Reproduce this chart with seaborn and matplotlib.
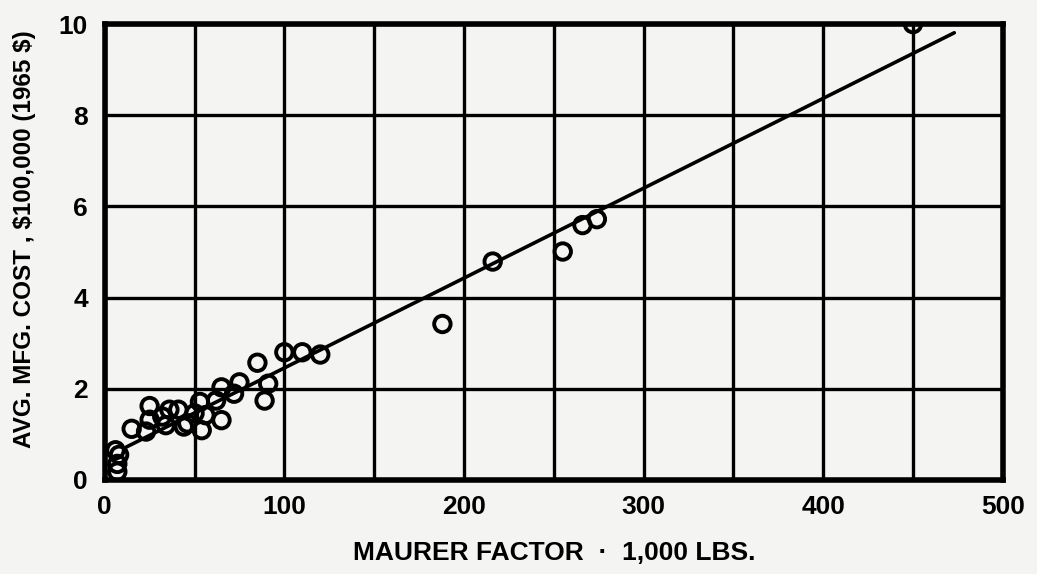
import numpy as np
import pandas as pd
from matplotlib import pyplot as plt
from matplotlib.ticker import MultipleLocator
import seaborn as sns

# data
maurer = [6, 8, 7, 7, 15, 23, 25, 25, 32, 34, 36, 41, 44, 46, 50, 54, 53, 56,
          62, 65, 65, 72, 75, 85, 89, 91, 100, 110, 120, 188, 216, 255, 266, 274, 450]
cost = [0.65, 0.55, 0.35, 0.18, 1.12, 1.06, 1.62, 1.32, 1.39, 1.20, 1.54, 1.54,
        1.17, 1.24, 1.46, 1.09, 1.71, 1.42, 1.74, 1.31, 2.03, 1.89, 2.14, 2.57,
        1.74, 2.11, 2.80, 2.80, 2.75, 3.42, 4.79, 5.01, 5.59, 5.72, 10.0]
fit_x = [12, 473]
fit_y = [0.72, 9.81]

x_ticks = [0, 100, 200, 300, 400, 500]
y_ticks = [0, 2, 4, 6, 8, 10]

df = pd.DataFrame({"x": maurer, "y": cost})
fit = pd.DataFrame({"x": fit_x, "y": fit_y})

sns.set_style("white")
plt.rcParams['font.family'] = ['Liberation Sans Narrow', 'Liberation Sans', 'DejaVu Sans']
plt.rcParams['text.color'] = 'black'
plt.rcParams['axes.labelcolor'] = 'black'
plt.rcParams['xtick.color'] = 'black'
plt.rcParams['ytick.color'] = 'black'
bg = "#f4f4f2"

fig = plt.figure(figsize=(10.37, 5.74), dpi=100, facecolor=bg)
ax = fig.add_axes([0.101, 0.164, 0.866, 0.794])
ax.set_facecolor(bg)

sns.lineplot(data=fit, x="x", y="y", ax=ax, color="black", linewidth=2.6, zorder=3)
sns.scatterplot(data=df, x="x", y="y", ax=ax, marker="o", s=140,
                facecolor="none", edgecolor="black", linewidth=2.8, zorder=4)

ax.set_xlim(0, 500)
ax.set_ylim(0, 10)
ax.set_xticks(x_ticks)
ax.set_yticks(y_ticks)
ax.xaxis.set_minor_locator(MultipleLocator(50))
ax.grid(which="both", color="black", linewidth=2.4)
ax.set_axisbelow(True)
ax.tick_params(which="both", length=0)
ax.tick_params(axis="x", pad=11)
ax.tick_params(axis="y", pad=12)
for lab in ax.get_xticklabels() + ax.get_yticklabels():
    lab.set_fontsize(19)
    lab.set_fontweight("bold")
for s in ax.spines.values():
    s.set_linewidth(4)
    s.set_color("black")

ax.set_xlabel("MAURER FACTOR  ·  1,000 LBS.", fontsize=19, fontweight="bold", labelpad=16)
ax.set_ylabel(r"AVG. MFG. COST , \$100,000 (1965 \$)", fontsize=17.5, fontweight="bold",
              family=['Liberation Sans', 'DejaVu Sans'])
ax.yaxis.set_label_coords(-0.076, 0.528)

plt.savefig("out.png", dpi=100, facecolor=bg)
